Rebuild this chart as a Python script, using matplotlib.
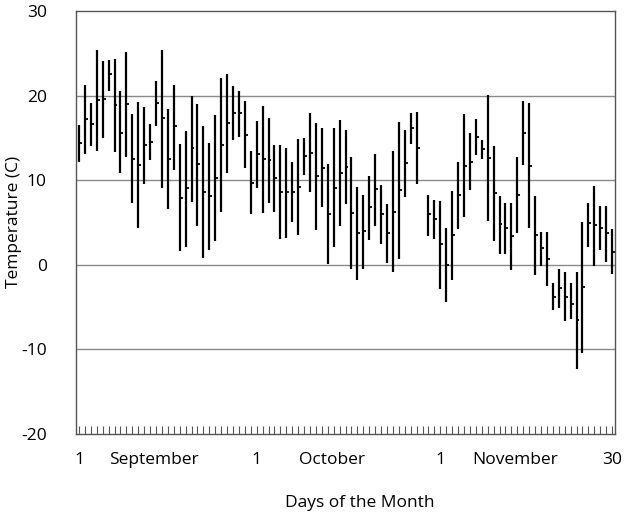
import matplotlib
matplotlib.use("Agg")
import matplotlib.pyplot as plt
import numpy as np

# Day index: 0 = 1 September ... 90 = 30 November (day 58 = 29 October missing)
day_index = [d for d in range(91) if d != 58]

high = [16.55, 21.25, 19.1, 25.4, 24.1, 24.2, 24.3, 20.5, 25.1, 17.8,
        19.3, 18.7, 16.6, 21.7, 25.4, 18.4, 21.2, 14.3, 15.8, 20.0,
        19.0, 16.35, 14.4, 17.7, 22.1, 22.6, 21.1, 20.5, 19.4, 13.4,
        17.05, 18.8, 17.4, 14.2, 14.2, 13.85, 12.15, 14.85, 15.0, 17.9,
        16.8, 16.15, 11.95, 16.15, 17.1, 15.95, 12.7, 9.2, 8.3, 10.5,
        13.15, 9.4, 7.2, 13.4, 16.9, 15.95, 17.9, 18.1,
        8.3, 7.7, 7.55, 4.4, 8.7, 12.15, 17.85, 15.6, 17.25, 14.8,
        20.1, 14.0, 8.15, 7.25, 7.25, 12.7, 19.4, 19.1, 8.15, 3.9,
        3.9, -2.15, -0.5, -0.9, -2.1, -0.85, 5.0, 7.35, 9.3, 6.95,
        6.9, 4.2]

low = [12.15, 13.05, 14.0, 13.5, 15.0, 20.6, 13.3, 10.8, 12.7, 7.25,
       4.3, 9.6, 12.35, 16.4, 9.1, 6.6, 11.25, 1.6, 2.15, 7.45,
       4.6, 0.8, 1.7, 2.8, 6.3, 10.8, 14.7, 15.1, 11.4, 5.95,
       9.1, 6.1, 7.25, 6.3, 3.0, 3.2, 5.0, 3.5, 10.65, 8.6,
       4.1, 6.8, 0.1, 2.05, 4.6, 7.2, -0.5, -1.85, -0.5, 2.95,
       4.6, 2.4, 0.2, -0.85, 0.7, 8.05, 14.3, 9.5,
       3.4, 3.1, -2.85, -4.4, -1.85, 4.2, 5.6, 8.8, 12.95, 12.55,
       5.2, 2.8, 1.25, 1.3, -0.65, 3.7, 11.75, 4.3, -1.25, -0.1,
       -2.55, -5.4, -5.1, -6.65, -6.4, -12.35, -10.45, 2.15, -0.1, 1.7,
       0.3, -1.05]

close = [14.4, 17.2, 16.6, 19.45, 19.55, 22.5, 18.9, 15.6, 19.0, 12.55,
         11.8, 14.2, 14.5, 19.1, 17.4, 12.55, 16.35, 7.95, 9.1, 13.85,
         11.9, 8.55, 8.1, 10.3, 14.2, 16.75, 18.0, 17.9, 15.4, 9.7,
         13.1, 12.5, 12.35, 10.3, 8.6, 8.55, 8.6, 9.2, 12.9, 13.2,
         10.5, 11.5, 6.0, 9.1, 10.9, 11.6, 6.1, 3.7, 4.0, 6.8,
         8.95, 5.95, 3.7, 6.3, 8.85, 12.0, 16.2, 13.75,
         5.95, 5.45, 2.4, 0.0, 3.5, 8.2, 11.7, 12.2, 15.1, 13.7,
         12.6, 8.5, 4.8, 4.4, 3.4, 8.2, 15.6, 11.7, 3.5, 1.95,
         0.65, -3.8, -2.8, -3.8, -4.65, -6.55, -2.65, 4.9, 4.75, 4.4,
         3.8, 1.55]

tick_pos = [0, 12.6, 30, 42.8, 61, 73.7, 90]
tick_labels = ["1", "September", "1", "October", "1", "November", "30"]
y_ticks = [-20, -10, 0, 10, 20, 30]

plt.rcParams["font.family"] = ["Open Sans", "DejaVu Sans"]
FS = 12.5

fig = plt.figure(figsize=(6.25, 5.17), dpi=100)
ax = fig.add_axes([76 / 625, (517 - 434) / 517, (615 - 76) / 625, (434 - 11) / 517])

x = np.array(day_index)
ax.vlines(x, low, high, color="black", linewidth=1.6, zorder=3)
ax.hlines(close, x, x + 0.5, color="black", linewidth=1.3, zorder=3)

ax.set_xlim(-0.5, 90.5)
ax.set_ylim(-20, 30)
ax.set_yticks(y_ticks)
ax.set_yticklabels([str(v) for v in y_ticks], fontsize=FS)
ax.tick_params(axis="y", length=0, pad=21)

ax.set_xticks(tick_pos)
ax.set_xticklabels(tick_labels, fontsize=FS)
ax.set_xticks(np.arange(0, 91), minor=True)
ax.xaxis.remove_overlapping_locs = False
ax.tick_params(axis="x", which="major", length=0, pad=13)
ax.tick_params(axis="x", which="minor", direction="in", length=6, width=0.8, color="#555555")

for v in [-10, 0, 10, 20]:
    ax.axhline(v, color="#8a8a8a", linewidth=1.0, zorder=1)

for s in ax.spines.values():
    s.set_color("#555555")
    s.set_linewidth(1.0)

fig.text(360 / 625, 1 - 503 / 517, "Days of the Month", fontsize=FS, ha="center", va="center")
fig.text(14 / 625, 1 - 222 / 517, "Temperature (C)", fontsize=FS, ha="center", va="center", rotation=90)

fig.savefig("out.png", dpi=100)
